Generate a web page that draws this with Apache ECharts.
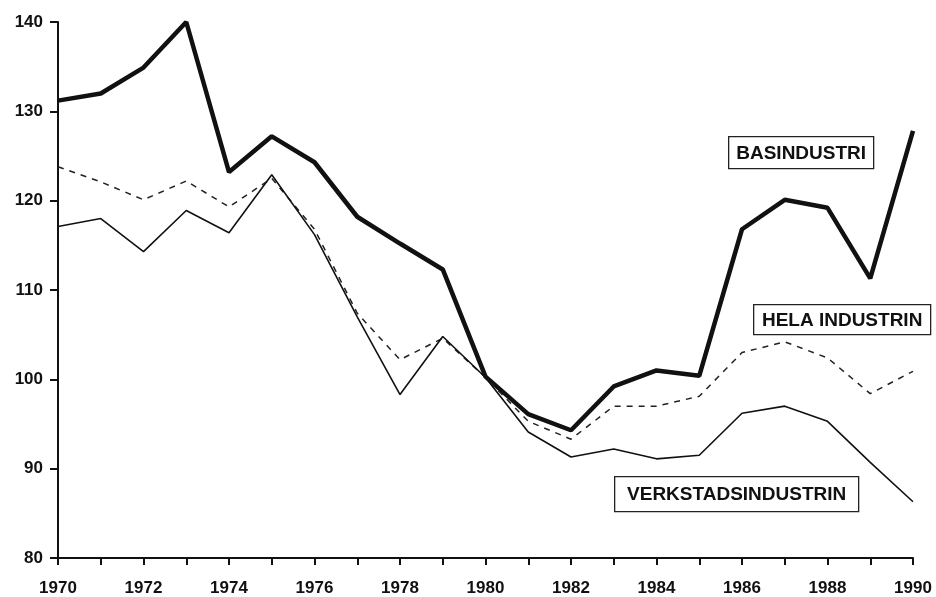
<!DOCTYPE html>
<html>
<head>
<meta charset="utf-8">
<style>
  html, body { margin: 0; padding: 0; background: #fff; }
  #chart { width: 936px; height: 597px; }
</style>
<script src="https://cdn.jsdelivr.net/npm/echarts@6/dist/echarts.min.js"></script>
</head>
<body>
<div id="chart"></div>
<script>
var years = ['1970','1971','1972','1973','1974','1975','1976','1977','1978','1979','1980',
             '1981','1982','1983','1984','1985','1986','1987','1988','1989','1990'];
var basindustri = [131.2, 132.0, 134.9, 140.0, 123.2, 127.2, 124.3, 118.2, 115.2, 112.3, 100.3,
                   96.1, 94.3, 99.2, 101.0, 100.4, 116.8, 120.1, 119.2, 111.3, 127.8];
var helaIndustrin = [123.8, 122.1, 120.1, 122.2, 119.3, 122.5, 116.8, 107.4, 102.2, 104.6, 100.2,
                     95.3, 93.3, 97.0, 97.0, 98.1, 103.0, 104.2, 102.4, 98.4, 100.9];
var verkstad = [117.1, 118.0, 114.3, 118.9, 116.4, 122.9, 116.2, 107.0, 98.3, 104.8, 100.2,
                94.1, 91.3, 92.2, 91.1, 91.5, 96.2, 97.0, 95.3, 90.7, 86.3];

var fontFam = '"Liberation Sans", Arial, sans-serif';
var labelFont = 'bold 19px ' + fontFam;

function boxLabel(text, left, top, w, h){
	return {
		type: 'group',
		left: left,
		top: top,
		children: [
			{ type: 'rect', shape: { x: 0, y: 0, width: w, height: h },
			  style: { fill: '#fff', stroke: '#222', lineWidth: 1.3 } },
			{ type: 'text', x: w / 2, y: h / 2 + 1,
			  style: { text: text, font: labelFont, fill: '#111', align: 'center', verticalAlign: 'middle' } }
		]
	};
}

var chart = echarts.init(document.getElementById('chart'));
var option = {
	backgroundColor: '#fff',
	animation: false,
	grid: { left: 58, right: 23, top: 22, bottom: 38 },
	xAxis: {
		type: 'category',
		data: years,
		boundaryGap: false,
		axisLine: { lineStyle: { color: '#111', width: 2 } },
		axisTick: { show: true, interval: 0, length: 7, lineStyle: { color: '#111', width: 2 } },
		axisLabel: { interval: 1, color: '#111', fontSize: 17, fontWeight: 'bold',
		             fontFamily: fontFam, margin: 22 },
		splitLine: { show: false }
	},
	yAxis: {
		type: 'value',
		min: 80,
		max: 140,
		interval: 10,
		axisLine: { show: true, lineStyle: { color: '#111', width: 2 } },
		axisTick: { show: true, length: 8, lineStyle: { color: '#111', width: 2 } },
		axisLabel: { color: '#111', fontSize: 17, fontWeight: 'bold',
		             fontFamily: fontFam, margin: 15 },
		splitLine: { show: false }
	},
	series: [
		{ name: 'BASINDUSTRI', type: 'line', data: basindustri, symbol: 'none',
		  lineStyle: { color: '#111', width: 4.5 } },
		{ name: 'HELA INDUSTRIN', type: 'line', data: helaIndustrin, symbol: 'none',
		  lineStyle: { color: '#222', width: 1.5, type: [6, 6] } },
		{ name: 'VERKSTADSINDUSTRIN', type: 'line', data: verkstad, symbol: 'none',
		  lineStyle: { color: '#111', width: 1.6 } }
	],
	graphic: [
		boxLabel('BASINDUSTRI', 728, 136, 145, 32),
		boxLabel('HELA INDUSTRIN', 753, 304, 177, 30),
		boxLabel('VERKSTADSINDUSTRIN', 614, 476, 244, 35)
	]
};
chart.setOption(option);
</script>
</body>
</html>
